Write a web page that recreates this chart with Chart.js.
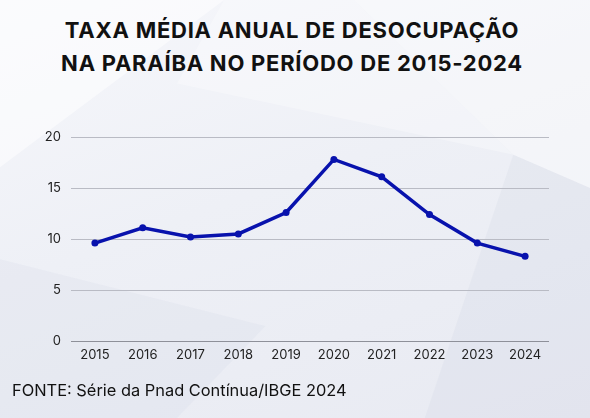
<!DOCTYPE html>
<html lang="pt-BR">
<head>
<meta charset="utf-8">
<script src="https://cdn.jsdelivr.net/npm/chart.js@4"></script>
<style>
    html, body { margin: 0; padding: 0; }
    body {
        width: 590px; height: 418px; overflow: hidden; position: relative;
        background: linear-gradient(160deg, #f6f7fb 0%, #eef0f6 45%, #e8eaf2 100%);
        font-family: Inter, "Noto Sans", sans-serif;
    }
    .facet { position: absolute; inset: 0; }
    .f1 { background: rgba(255,255,255,0.5); clip-path: polygon(0 0, 38% 0, 0 40%); }
    .f2 { background: rgba(255,255,255,0.4); clip-path: polygon(60% 0, 100% 0, 100% 45%, 87% 37%); }
    .f3 { background: rgba(205,210,225,0.18); clip-path: polygon(0 62%, 45% 78%, 30% 100%, 0 100%); }
    .f4 { background: rgba(200,204,222,0.18); clip-path: polygon(87% 37%, 100% 45%, 100% 100%, 72% 100%); }
    .f5 { background: rgba(255,255,255,0.3); clip-path: polygon(38% 0, 60% 0, 87% 37%, 30% 20%); }
    h1 {
        position: absolute; left: 0; top: 14px; width: 584px; margin: 0;
        text-align: center; font-size: 22px; font-weight: 700; line-height: 33px;
        color: #111; letter-spacing: 0.75px;
    }
    .fonte {
        position: absolute; left: 12px; top: 380px; font-size: 16.4px; color: #111;
    }
    #box { position: absolute; left: 0; top: 0; width: 590px; height: 418px; }
</style>
</head>
<body>
<div class="facet f1"></div>
<div class="facet f5"></div>
<div class="facet f2"></div>
<div class="facet f3"></div>
<div class="facet f4"></div>
<h1>TAXA MÉDIA ANUAL DE DESOCUPAÇÃO<br>NA PARAÍBA NO PERÍODO DE 2015-2024</h1>
<div id="box"><canvas id="chart"></canvas></div>
<div class="fonte">FONTE: Série da Pnad Contínua/IBGE 2024</div>
<script>
// Anos e taxa média anual de desocupação (%)
const anos = ['2015', '2016', '2017', '2018', '2019', '2020', '2021', '2022', '2023', '2024'];
const taxa = [9.6, 11.1, 10.2, 10.5, 12.6, 17.8, 16.1, 12.4, 9.6, 8.3];
const yTicks = [0, 5, 10, 15, 20];

const azul = '#0812ad';

new Chart(document.getElementById('chart'), {
    type: 'line',
    data: {
        labels: anos,
        datasets: [{
            data: taxa,
            borderColor: azul,
            backgroundColor: azul,
            borderWidth: 3.5,
            pointRadius: 3.5,
            pointBackgroundColor: azul,
            pointBorderWidth: 0,
            tension: 0
        }]
    },
    options: {
        responsive: true,
        maintainAspectRatio: false,
        animation: false,
        layout: { padding: { left: 0, right: 41, top: 137, bottom: 47 } },
        plugins: {
            legend: { display: false },
            tooltip: { enabled: false }
        },
        scales: {
            x: {
                offset: true,
                grid: { display: false, drawTicks: false },
                border: { display: false },
                ticks: { color: '#222', font: { family: 'Inter', size: 13 }, padding: 6 },
                afterFit: (s) => { s.height = 30; }
            },
            y: {
                min: 0,
                max: 20,
                afterBuildTicks: (s) => { s.ticks = yTicks.map(v => ({ value: v })); },
                grid: {
                    color: (c) => c.tick && c.tick.value === 0 ? '#8e9099' : '#b9bbc4',
                    lineWidth: 1,
                    drawTicks: false
                },
                border: { display: false },
                ticks: { color: '#222', font: { family: 'Inter', size: 13 }, padding: 10 },
                afterFit: (s) => { s.width = 71; }
            }
        }
    }
});
</script>
</body>
</html>
